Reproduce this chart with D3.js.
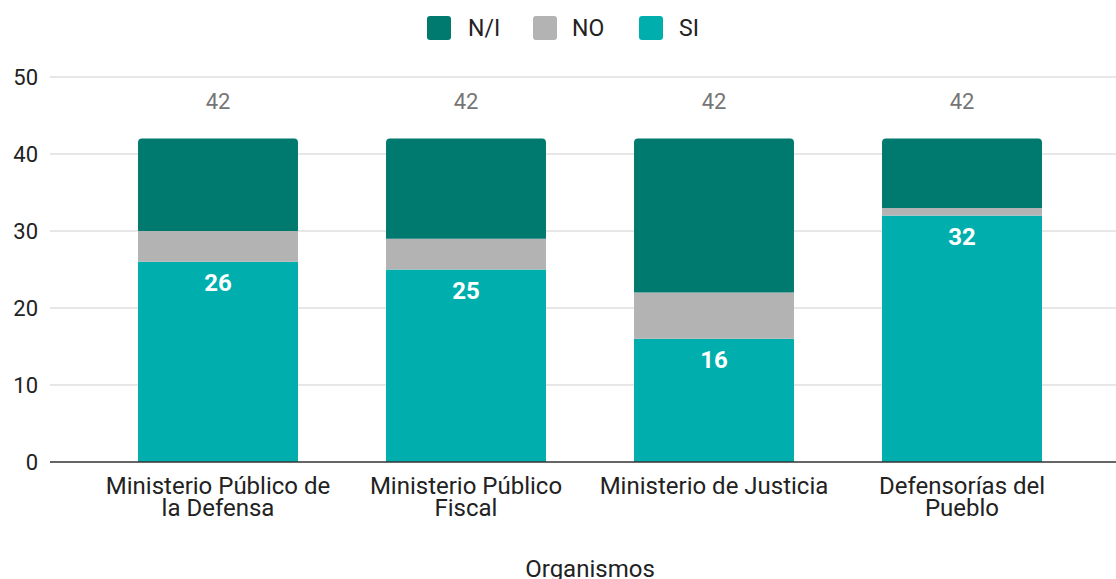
<!DOCTYPE html>
<html><head><meta charset="utf-8">
<script src="https://cdn.jsdelivr.net/npm/d3@7"></script>
<style>body{margin:0;background:#fff;}svg{display:block;font-family:Roboto,"Noto Sans",sans-serif;}</style>
</head><body><svg width="1116" height="579"></svg>
<script>
const categories = [["Ministerio Público de","la Defensa"],["Ministerio Público","Fiscal"],["Ministerio de Justicia"],["Defensorías del","Pueblo"]];
const seriesNames = ["SI","NO","N/I"];
const siValues = [26,25,16,32];
const noValues = [4,4,6,1];
const niValues = [12,13,20,9];
const yTicks = [0,10,20,30,40,50];
const colors = {"SI":"#00AFAD","NO":"#B3B3B3","N/I":"#00796F"};
const xTitle = "Organismos";

(function(){
const svg = d3.select("svg");
const W=1116,H=579;
const mLeft=94,mRight=1086,mTop=77,mBottom=462;
const x = d3.scaleBand().domain(d3.range(categories.length)).range([mLeft,mRight]).paddingInner(0.355).paddingOuter(0.1775);
const y = d3.scaleLinear().domain([0,50]).range([mBottom,mTop]);

const grid = svg.append("g");
grid.selectAll("line").data(yTicks.filter(d=>d>0)).join("line")
  .attr("x1",50).attr("x2",W).attr("y1",d=>y(d)).attr("y2",d=>y(d))
  .attr("stroke","#d0d0d0").attr("stroke-width",1.2);
svg.append("g").selectAll("text").data(yTicks).join("text")
  .attr("x",38).attr("y",d=>y(d)).attr("dy","0.35em").attr("text-anchor","end")
  .attr("font-size",22).attr("fill","#222").text(d=>d);

const data = categories.map((c,i)=>({i, SI:siValues[i], NO:noValues[i], "N/I":niValues[i]}));
const stack = d3.stack().keys(seriesNames)(data);

stack.forEach((layer,li)=>{
  const g = svg.append("g").attr("fill",colors[layer.key]);
  layer.forEach((d,i)=>{
    const x0=x(i), w=x.bandwidth(), y0=y(d[0]), y1=y(d[1]);
    if(li===seriesNames.length-1){
      const r=4;
      g.append("path").attr("d",`M${x0},${y0}V${y1+r}Q${x0},${y1} ${x0+r},${y1}H${x0+w-r}Q${x0+w},${y1} ${x0+w},${y1+r}V${y0}Z`);
    } else {
      g.append("rect").attr("x",x0).attr("y",y1).attr("width",w).attr("height",y0-y1);
    }
  });
});

svg.append("g").selectAll("text").data(siValues).join("text")
  .attr("x",(d,i)=>x(i)+x.bandwidth()/2).attr("y",d=>y(d)+21).attr("dy","0.35em")
  .attr("text-anchor","middle").attr("font-size",24).attr("font-weight","bold").attr("fill","#fff").text(d=>d);

svg.append("g").selectAll("text").data(data).join("text")
  .attr("x",d=>x(d.i)+x.bandwidth()/2).attr("y",101).attr("dy","0.35em")
  .attr("text-anchor","middle").attr("font-size",22).attr("fill","#757575")
  .text(d=>d.SI+d.NO+d["N/I"]);

svg.append("line").attr("x1",50).attr("x2",W).attr("y1",y(0)).attr("y2",y(0)).attr("stroke","#333").attr("stroke-width",1.5);

const xl = svg.append("g");
categories.forEach((lines,i)=>{
  const t = xl.append("text").attr("x",x(i)+x.bandwidth()/2).attr("y",494).attr("text-anchor","middle").attr("font-size",24).attr("fill","#222");
  lines.forEach((l,k)=>t.append("tspan").attr("x",x(i)+x.bandwidth()/2).attr("dy",k?22:0).text(l));
});
svg.append("text").attr("x",590).attr("y",577).attr("text-anchor","middle").attr("font-size",24).attr("fill","#222").text(xTitle);

const legendItems = [{k:"N/I",x:427,tx:468},{k:"NO",x:533,tx:572},{k:"SI",x:639,tx:679}];
const lg = svg.append("g");
legendItems.forEach(it=>{
  lg.append("rect").attr("x",it.x).attr("y",16).attr("width",24).attr("height",24).attr("rx",3).attr("fill",colors[it.k]);
  lg.append("text").attr("x",it.tx).attr("y",28).attr("dy","0.35em").attr("font-size",23).attr("fill","#222").text(it.k);
});
})();
</script></body></html>
